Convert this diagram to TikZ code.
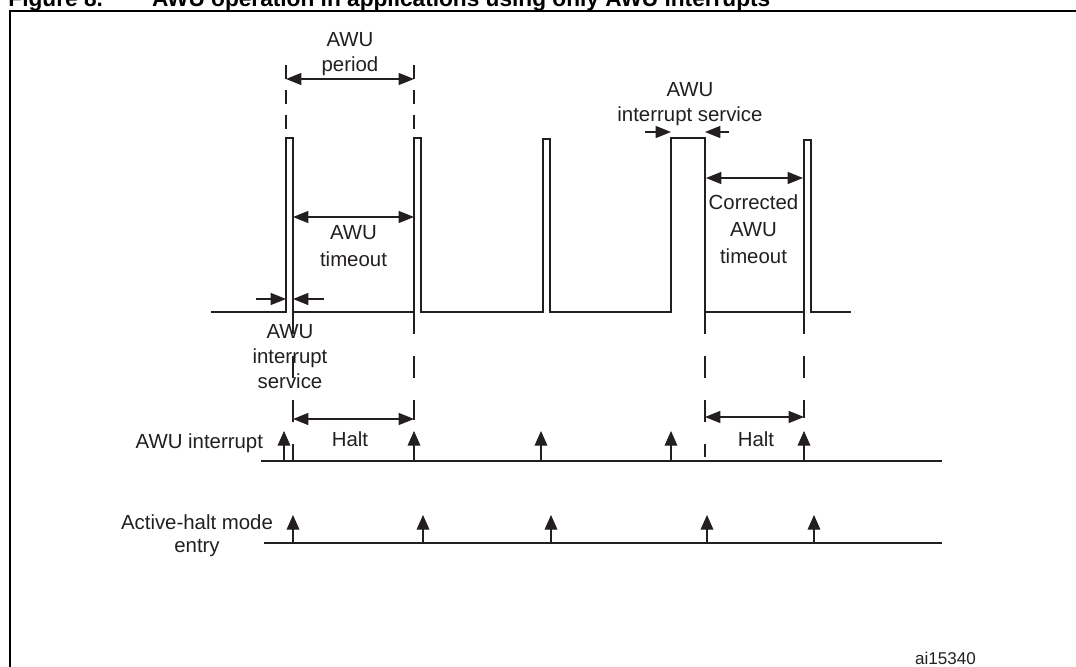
\documentclass[tikz,border=0pt]{standalone}
\usepackage{fontspec}
\setmainfont{Liberation Sans}
\usetikzlibrary{arrows.meta}
\definecolor{ink}{RGB}{35,31,32}
\begin{document}
\begin{tikzpicture}[x=0.75pt,y=-0.75pt,
  every node/.style={text=ink, inner sep=0pt, outer sep=0pt},
  lab/.style={font=\fontsize{15.3}{18.75}\selectfont, align=center},
  ttl/.style={font=\fontsize{17}{20}\selectfont\bfseries, text=black, anchor=base west},
  sig/.style={draw=ink, line width=1.05pt},
  axisline/.style={draw=ink, line width=1.15pt},
  frameline/.style={draw=black, line width=1.6pt},
  dimarrow/.style={draw=ink, line width=1pt, {Triangle[length=11.5pt,width=9pt]}-{Triangle[length=11.5pt,width=9pt]}},
  tickarrow/.style={draw=ink, line width=1pt, -{Triangle[length=11.5pt,width=9pt]}},
  upmark/.style={draw=ink, line width=1pt, -{Triangle[length=11pt,width=9.5pt]}},
  guideA/.style={draw=ink, line width=0.95pt, dash pattern=on 10.5pt off 8.25pt},
  guideB/.style={draw=ink, line width=0.95pt, dash pattern=on 16.5pt off 16.5pt},
]
\useasboundingbox (0,0) rectangle (1076,667);
\clip (0,0) rectangle (1076,667);

% title (cut by the top edge) and frame
\node[ttl] (tnum) at (8.5,7) {Figure 8.};
\node[ttl] (ttext) at (152,7) {AWU operation in applications using only AWU interrupts};
\coordinate (fbl) at (10,700);
\coordinate (ftl) at (10,11);
\coordinate (ftr) at (1100,11);
\draw[frameline] (fbl) -- (ftl) -- (ftr);

% waveform corners
\coordinate (w0) at (211,312);
\coordinate (r1) at (286,138);  \coordinate (f1) at (293,312);
\coordinate (r2) at (414,138);  \coordinate (f2) at (421,312);
\coordinate (r3) at (543,139);  \coordinate (f3) at (550,312);
\coordinate (r4) at (671,138);  \coordinate (f4) at (705,312);
\coordinate (r5) at (804,140);  \coordinate (f5) at (811,312);
\coordinate (w1) at (851,312);
\coordinate (r2lo) at (414,312);
\coordinate (r5lo) at (804,312);
\draw[sig] (w0) -| (r1) -| (f1) -| (r2) -| (f2) -| (r3) -| (f3) -| (r4) -| (f4) -| (r5) -| (f5) -- (w1);

% dashed guides
\coordinate (g1t) at (286,65);
\coordinate (g2t) at (414,65);
\coordinate (g1b) at (293,461);
\coordinate (g2b) at (414,420);
\coordinate (g4b) at (705,457);
\coordinate (g5b) at (804,418);
\draw[guideA] (g1t) -- (r1);
\draw[guideA] (g2t) -- (r2);
\draw[guideB] (f1) -- (g1b);
\draw[guideB] (r2lo) -- (g2b);
\draw[guideB] (f4) -- (g4b);
\draw[guideB] (r5lo) -- (g5b);

% dimension arrows
\coordinate (perA) at (286,79);  \coordinate (perB) at (414,79);
\coordinate (toA) at (293,217);  \coordinate (toB) at (414,217);
\coordinate (h1A) at (293,419);  \coordinate (h1B) at (414,419);
\coordinate (h2A) at (705,417);  \coordinate (h2B) at (804,417);
\coordinate (coA) at (706,178);  \coordinate (coB) at (803,178);
\draw[dimarrow] (perA) -- (perB);
\draw[dimarrow] (toA) -- (toB);
\draw[dimarrow] (h1A) -- (h1B);
\draw[dimarrow] (h2A) -- (h2B);
\draw[dimarrow] (coA) -- (coB);

% interrupt-service markers
\coordinate (s1a) at (256,299); \coordinate (s1b) at (286,299);
\coordinate (s2a) at (324,299); \coordinate (s2b) at (293,299);
\coordinate (s3a) at (645,132); \coordinate (s3b) at (671,132);
\coordinate (s4a) at (729,132); \coordinate (s4b) at (705,132);
\draw[tickarrow] (s1a) -- (s1b);
\draw[tickarrow] (s2a) -- (s2b);
\draw[tickarrow] (s3a) -- (s3b);
\draw[tickarrow] (s4a) -- (s4b);

% axes
\coordinate (ax1a) at (261,461); \coordinate (ax1b) at (942,461);
\coordinate (ax2a) at (264,543); \coordinate (ax2b) at (942,543);
\draw[axisline] (ax1a) -- (ax1b);
\draw[axisline] (ax2a) -- (ax2b);
\foreach \x [count=\i] in {284,414,541,671,804} {
  \coordinate (ia\i) at (\x,461);
  \coordinate (iat\i) at (\x,431);
  \draw[upmark] (ia\i) -- (iat\i);
}
\foreach \x [count=\i] in {293,423,551,707,814} {
  \coordinate (ha\i) at (\x,543);
  \coordinate (hat\i) at (\x,515);
  \draw[upmark] (ha\i) -- (hat\i);
}

% labels
\node[lab] (lper) at (350,54.4) {AWU\\period};
\node[lab, font=\fontsize{15.3}{20.25}\selectfont] (lto) at (353.5,246) {AWU\\timeout};
\node[lab] (lisl) at (290,357) {AWU\\interrupt\\service};
\node[lab] (lisr) at (690,103.7) {AWU\\interrupt service};
\node[lab, font=\fontsize{15.3}{20.6}\selectfont] (lcor) at (753.5,229.2) {Corrected\\AWU\\timeout};
\node[lab, anchor=base] (lh1) at (350,446.7) {Halt};
\node[lab, anchor=base] (lh2) at (756,446.7) {Halt};
\node[lab, anchor=base east] (lai) at (263,448) {AWU interrupt};
\node[lab, font=\fontsize{15.3}{17.25}\selectfont] (lah) at (197,536) {Active-halt mode\\entry};
\node[font=\fontsize{12.8}{15}\selectfont, anchor=base] (lid) at (945.5,664.5) {ai15340};
\end{tikzpicture}
\end{document}
